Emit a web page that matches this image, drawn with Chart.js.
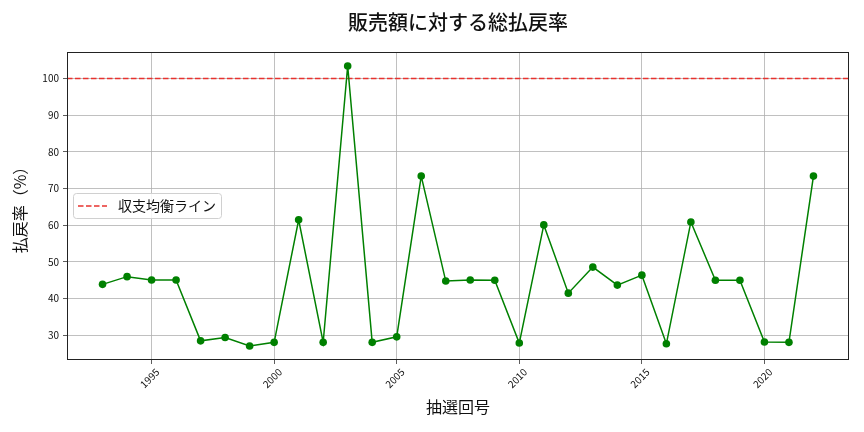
<!DOCTYPE html>
<html>
<head>
<meta charset="utf-8">
<title>販売額に対する総払戻率</title>
<script src="https://cdn.jsdelivr.net/npm/chart.js@4.4.1/dist/chart.umd.min.js"></script>
<style>
  html, body { margin: 0; padding: 0; background: #fff; }
  canvas { display: block; }
</style>
</head>
<body>
<canvas id="c" width="864" height="432" style="width:864px;height:432px"></canvas>
<script>
// data
var years = [1993,1994,1995,1996,1997,1998,1999,2000,2001,2002,2003,2004,2005,2006,2007,
             2008,2009,2010,2011,2012,2013,2014,2015,2016,2017,2018,2019,2020,2021,2022];
var payoutRate = [43.9,46.0,45.1,45.1,28.5,29.4,27.1,28.1,61.5,28.1,103.4,28.1,29.6,73.4,44.8,
                  45.1,45.0,27.9,60.1,41.5,48.6,43.7,46.4,27.7,60.9,45.0,45.0,28.2,28.1,73.4];
var breakEven = 100;
var xTicks = [1995,2000,2005,2010,2015,2020];
var yTicks = [30,40,50,60,70,80,90,100];
var legendLabel = "収支均衡ライン";

var FONT = "'Noto Sans CJK JP', 'Noto Sans', sans-serif";

// matplotlib style 5% margins
var xMin = years[0] - (years[years.length-1]-years[0])*0.05;
var xMax = years[years.length-1] + (years[years.length-1]-years[0])*0.05;
var yLo = Math.min.apply(null, payoutRate), yHi = Math.max.apply(null, payoutRate);
var yMin = yLo - (yHi-yLo)*0.05, yMax = yHi + (yHi-yLo)*0.05;

var points = [];
for (var i=0;i<years.length;i++) points.push({x:years[i], y:payoutRate[i]});

// frame, break-even line and legend box
var extras = {
  id: 'extras',
  beforeDatasetsDraw: function(chart) {
    var ctx = chart.ctx, a = chart.chartArea;
    var y = chart.scales.y.getPixelForValue(breakEven);
    ctx.save();
    ctx.strokeStyle = '#e8332f';
    ctx.lineWidth = 1.5;
    ctx.setLineDash([5.5,2.5]);
    ctx.beginPath(); ctx.moveTo(a.left, y); ctx.lineTo(a.right, y); ctx.stroke();
    ctx.restore();
  },
  afterDraw: function(chart) {
    var ctx = chart.ctx, a = chart.chartArea;
    ctx.save();
    ctx.strokeStyle = '#222';
    ctx.lineWidth = 1;
    ctx.strokeRect(a.left+0.5, a.top+0.5, a.right-a.left-1, a.bottom-a.top-1);
    // legend
    var lx = a.left + 6, ly = 193, lw = 148, lh = 25;
    ctx.fillStyle = 'rgba(255,255,255,0.85)';
    ctx.strokeStyle = '#d0d0d0';
    ctx.beginPath();
    if (ctx.roundRect) ctx.roundRect(lx+0.5, ly+0.5, lw, lh, 3); else ctx.rect(lx+0.5, ly+0.5, lw, lh);
    ctx.fill(); ctx.stroke();
    ctx.strokeStyle = '#e8332f';
    ctx.lineWidth = 1.5;
    ctx.setLineDash([5.5,2.5]);
    ctx.beginPath(); ctx.moveTo(lx+5, ly+13); ctx.lineTo(lx+34, ly+13); ctx.stroke();
    ctx.setLineDash([]);
    ctx.fillStyle = '#111';
    ctx.font = '14px ' + FONT;
    ctx.textBaseline = 'middle';
    ctx.fillText(legendLabel, lx+45, ly+13);
    ctx.restore();
  }
};

new Chart(document.getElementById('c').getContext('2d'), {
  type: 'line',
  data: {
    datasets: [{
      label: '総払戻率',
      data: points,
      borderColor: '#008000',
      backgroundColor: '#008000',
      borderWidth: 1.5,
      pointRadius: 3.8,
      pointHoverRadius: 3.8,
      pointBorderWidth: 0,
      tension: 0
    }]
  },
  options: {
    responsive: false,
    animation: false,
    devicePixelRatio: 1,
    layout: { padding: { left: 0, right: 15, top: 0, bottom: 0 } },
    plugins: {
      legend: { display: false },
      tooltip: { enabled: false },
      title: {
        display: true,
        fullSize: false,
        text: '販売額に対する総払戻率',
        color: '#111',
        font: { family: FONT, size: 20, weight: 500 },
        padding: { top: 10, bottom: 18 }
      }
    },
    scales: {
      x: {
        type: 'linear',
        min: xMin, max: xMax,
        afterBuildTicks: function(s){ s.ticks = xTicks.map(function(v){ return {value:v}; }); },
        afterFit: function(s){ s.height = 72; },
        ticks: {
          color: '#111', font: { family: FONT, size: 10 },
          maxRotation: 45, minRotation: 45, padding: 2, labelOffset: 6,
          callback: function(v){ return String(v); }
        },
        grid: { color: '#b0b0b0', lineWidth: 0.8, tickLength: 4, tickColor: '#333' },
        border: { display: false },
        title: {
          display: true, text: '抽選回号', color: '#111',
          font: { family: FONT, size: 16 }, padding: { top: 0, bottom: 15 }
        }
      },
      y: {
        min: yMin, max: yMax,
        afterBuildTicks: function(s){ s.ticks = yTicks.map(function(v){ return {value:v}; }); },
        afterFit: function(s){ s.width = 67; },
        ticks: { color: '#111', font: { family: FONT, size: 10 }, padding: 4 },
        grid: { color: '#b0b0b0', lineWidth: 0.8, tickLength: 4, tickColor: '#333' },
        border: { display: false },
        title: {
          display: true, text: '払戻率（%）', color: '#111',
          font: { family: FONT, size: 16 }, padding: { top: 10, bottom: 0 }
        }
      }
    }
  },
  plugins: [extras]
});
</script>
</body>
</html>
